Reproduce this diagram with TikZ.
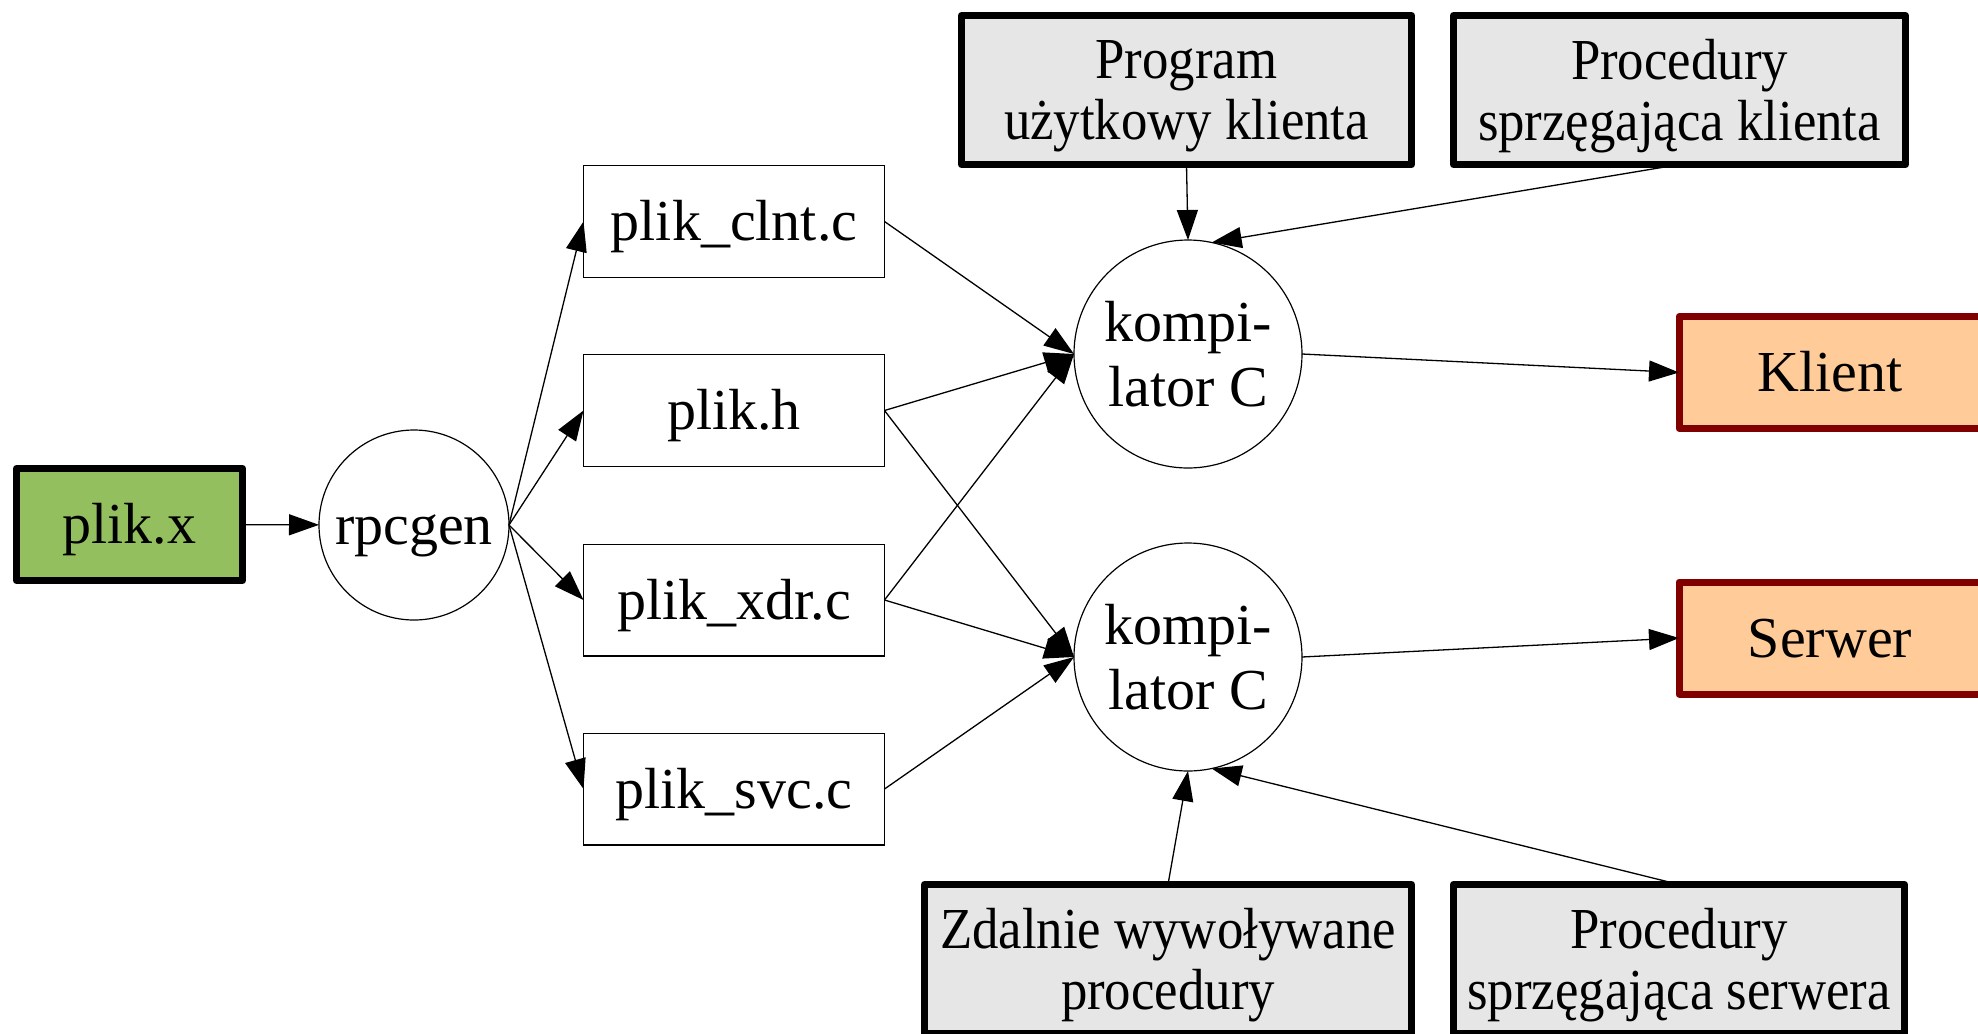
\documentclass[tikz,border=0pt]{standalone}
\usepackage{fontspec}
\setmainfont{Liberation Serif}
\newfontfamily\condfont{Liberation Serif}[FakeStretch=0.91]
\usetikzlibrary{arrows.meta}
\definecolor{greenfill}{HTML}{93BF5F}
\definecolor{grayfill}{HTML}{E6E6E6}
\definecolor{orangefill}{HTML}{FFCC99}
\definecolor{darkred}{HTML}{800000}
\begin{document}
\begin{tikzpicture}[x=0.5pt,y=-0.5pt,
  every node/.style={inner sep=0pt,outer sep=0pt,font=\fontsize{29}{32.5}\selectfont,align=center,text depth=0pt},
  oneline/.style={text height=19.4pt},
  thinbox/.style={oneline,draw,line width=0.7pt,minimum width=150.5pt,minimum height=55.8pt},
  thickbox/.style={draw,line width=3.5pt,line join=round,minimum height=74.5pt,fill=grayfill,font=\condfont\fontsize{29}{30.2}\selectfont},
  outbox/.style={oneline,draw=darkred,line width=3.5pt,line join=round,fill=orangefill,minimum width=151pt,minimum height=56pt},
  circ/.style={circle,draw,line width=0.6pt},
  conn/.style={line width=0.65pt,-{Triangle[length=15pt,width=10.5pt]}}
]
\useasboundingbox (0,0) rectangle (1978,1034);
\clip (0,0) rectangle (1978,1034);
\node[oneline,draw,line width=3.5pt,line join=round,fill=greenfill,minimum width=113pt,minimum height=56pt] (px) at (129.5,524.5) {plik.x};
\node[circ,oneline,minimum size=95pt] (rpc) at (414,525) {rpcgen};
\node[thinbox] (clnt) at (734,221.5) {plik\_clnt.c};
\node[thinbox] (h) at (734,410.5) {plik.h};
\node[thinbox] (xdr) at (734,600) {plik\_xdr.c};
\node[thinbox] (svc) at (734,789) {plik\_svc.c};
\node[circ,minimum size=114pt] (c1) at (1188,354) {kompi-\\lator C};
\node[circ,minimum size=114pt] (c2) at (1188,657) {kompi-\\lator C};
\node[outbox] (kl) at (1830,372.5) {Klient};
\node[outbox] (sw) at (1830,638) {Serwer};
\node[thickbox,minimum width=225pt] (prog) at (1186.5,90) {Program\\użytkowy klienta};
\node[thickbox,minimum width=226pt] (pk) at (1679.5,90) {Procedury\\sprzęgająca klienta};
\node[thickbox,minimum width=243.5pt] (zd) at (1168,959) {Zdalnie wywoływane\\procedury};
\node[thickbox,minimum width=225.5pt] (ps) at (1679,959) {Procedury\\sprzęgająca serwera};
\draw[conn] (px) -- (rpc);
\draw[conn] (rpc.east) -- (clnt.west);
\draw[conn] (rpc.east) -- (h.west);
\draw[conn] (rpc.east) -- (xdr.west);
\draw[conn] (rpc.east) -- (svc.west);
\draw[conn] (clnt.east) -- (c1.west);
\draw[conn] (h.east) -- (c1.west);
\draw[conn] (xdr.east) -- (c1.west);
\draw[conn] (h.east) -- (c2.west);
\draw[conn] (xdr.east) -- (c2.west);
\draw[conn] (svc.east) -- (c2.west);
\draw[conn] (prog.south) -- (c1.north);
\draw[conn] (pk.south) -- (c1.78);
\draw[conn] (c1.east) -- (kl.west);
\draw[conn] (c2.east) -- (sw.west);
\draw[conn] (zd.north) -- (c2.south);
\draw[conn] (ps.north) -- (c2.-78);
\end{tikzpicture}
\end{document}
